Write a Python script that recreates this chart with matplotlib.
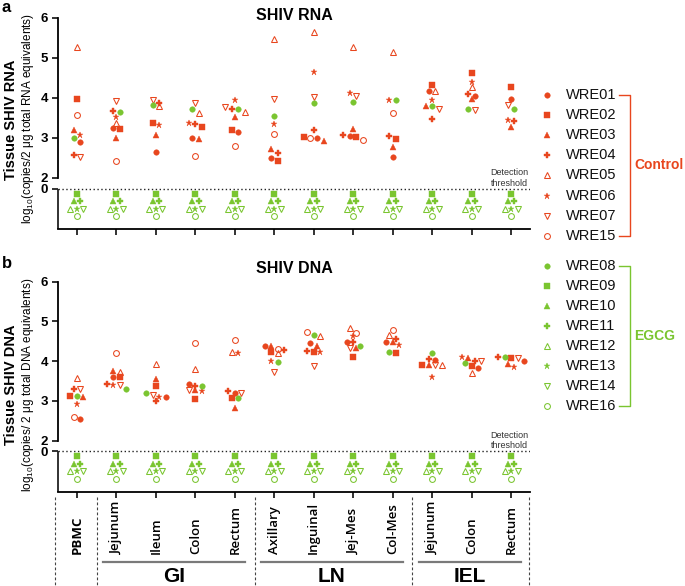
import matplotlib
matplotlib.use('Agg')
import matplotlib.pyplot as plt
import matplotlib.transforms as mtransforms
import numpy as np

plt.rcParams['font.family'] = ['Liberation Sans', 'DejaVu Sans']
plt.rcParams['mathtext.fontset'] = 'custom'
plt.rcParams['mathtext.rm'] = 'Liberation Sans'
plt.rcParams['mathtext.it'] = 'Liberation Sans:italic'
plt.rcParams['mathtext.bf'] = 'Liberation Sans:bold'

RED = '#E8461E'
GREEN = '#7AC530'
nan = np.nan

tissues = ['PBMC', 'Jejunum', 'Ileum', 'Colon', 'Rectum', 'Axillary', 'Inguinal',
           'Jej-Mes', 'Col-Mes', 'Jejunum', 'Colon', 'Rectum']
group_names = ['GI', 'LN', 'IEL']
group_cols = [(1, 4), (5, 8), (9, 11)]

control = ['WRE01', 'WRE02', 'WRE03', 'WRE04', 'WRE05', 'WRE06', 'WRE07', 'WRE15']
egcg = ['WRE08', 'WRE09', 'WRE10', 'WRE11', 'WRE12', 'WRE13', 'WRE14', 'WRE16']
# EGCG animals below detection in every tissue (stacked under the threshold line)
below_rows = [['WRE09'], ['WRE10', 'WRE11'], ['WRE12', 'WRE13', 'WRE14'], ['WRE16']]

# log10 copies / 2 ug total RNA, one value per tissue (nan = no point)
rna_wre01 = [2.89, 3.24, 2.66, 3.00, 3.15, 2.50, 3.00, 3.06, 2.52, 4.18, 4.05, 3.97]
rna_wre02 = [3.97, 3.23, 3.37, 3.28, 3.19, 2.43, 3.02, 3.02, 2.98, 4.33, 4.62, 4.28]
rna_wre03 = [3.20, 3.01, 3.08, 2.97, 3.52, 2.73, 2.92, 3.23, 2.78, 3.81, 3.97, 3.28]
rna_wre04 = [2.57, 3.67, 3.87, 3.36, 3.72, 2.62, 3.20, 3.07, 3.06, 3.47, 4.11, 3.42]
rna_wre05 = [5.27, 3.38, 3.80, 3.63, 3.64, 5.47, 5.65, 5.27, 5.14, 4.18, 4.27, nan]
rna_wre06 = [3.08, 3.52, 3.32, 3.38, 3.94, 3.34, 4.65, 4.13, 3.96, 3.95, 4.41, 3.45]
rna_wre07 = [2.52, 3.92, 3.95, 3.88, 3.77, 3.98, 4.02, 4.04, nan, 3.72, 3.71, 3.83]
rna_wre15 = [3.57, 2.43, nan, 2.55, 2.81, 3.10, 3.00, 2.95, 3.63, nan, nan, nan]
rna_wre08 = [3.01, 3.66, 3.82, 3.72, 3.72, 3.54, 3.87, 3.90, 3.94, 3.80, 3.72, 3.72]

# log10 copies / 2 ug total DNA
dna_wre01 = [2.54, 3.61, 3.09, 3.43, 3.21, 4.38, 4.45, 4.48, 4.49, 4.03, 3.84, 4.00]
dna_wre02 = [3.13, 3.61, 3.38, 3.05, 3.08, 4.23, 4.23, 4.11, 4.20, 3.91, 3.88, 4.09]
dna_wre03 = [3.11, 3.75, 3.56, 3.27, 2.83, 4.37, 4.38, 4.33, 4.48, 3.91, 4.09, 3.93]
dna_wre04 = [3.31, 3.42, 3.01, 3.38, 3.25, 4.28, 4.25, 4.48, 4.55, 4.05, 4.01, 4.11]
dna_wre05 = [3.59, 3.72, 3.93, 3.81, 4.22, 4.20, 4.63, 4.84, 4.65, 3.90, 3.70, nan]
dna_wre06 = [2.93, 3.39, 3.11, 3.26, 4.20, 4.01, 4.22, 4.64, 4.40, 3.61, 4.11, 3.86]
dna_wre07 = [3.29, 3.39, 3.16, 3.28, 3.19, 3.72, 3.87, 4.33, nan, 3.91, 4.00, 4.09]
dna_wre15 = [2.60, 4.20, nan, 4.47, 4.53, 4.31, 4.73, 4.71, 4.79, nan, nan, nan]
dna_wre08 = [3.12, 3.29, 3.20, 3.38, 3.08, 3.97, 4.67, 4.37, 4.23, 4.21, 3.95, 4.11]

rna = {'WRE01': rna_wre01, 'WRE02': rna_wre02, 'WRE03': rna_wre03, 'WRE04': rna_wre04,
       'WRE05': rna_wre05, 'WRE06': rna_wre06, 'WRE07': rna_wre07, 'WRE15': rna_wre15,
       'WRE08': rna_wre08}
dna = {'WRE01': dna_wre01, 'WRE02': dna_wre02, 'WRE03': dna_wre03, 'WRE04': dna_wre04,
       'WRE05': dna_wre05, 'WRE06': dna_wre06, 'WRE07': dna_wre07, 'WRE15': dna_wre15,
       'WRE08': dna_wre08}

# marker style by position within a group (same symbols for control and EGCG)
shapes = ['o', 's', '^', 'P', '^', '*', 'v', 'o']
filled = [True, True, True, True, False, True, False, False]
sizes = [4.0, 3.9, 4.0, 3.9, 4.0, 4.8, 4.0, 4.2]

style = {}
for i, a in enumerate(control):
    style[a] = (shapes[i], filled[i], sizes[i], RED)
for i, a in enumerate(egcg):
    style[a] = (shapes[i], filled[i], sizes[i], GREEN)

TH = 1.73      # position of the "0" / detection threshold line
LANE = 0.165   # horizontal spacing of side-by-side points


def scat(ax, x, y, animal, **kw):
    m, f, s, c = style[animal]
    ax.plot(x, y, ls='none', marker=m, ms=s,
            mfc=c if f else 'none', mec=c, mew=0.75 if not f else 0.3, **kw)


def swarm(vals, gap=0.13):
    vals = np.asarray(vals)
    offs = np.zeros(len(vals))
    order = [j for j in np.argsort(-vals) if not np.isnan(vals[j])]
    rows, row = [], []
    for j in order:
        if row and vals[row[0]] - vals[j] > gap:
            rows.append(row)
            row = []
        row.append(j)
    if row:
        rows.append(row)
    for r in rows:
        for k, j in enumerate(r):
            offs[j] = (k - (len(r) - 1) / 2) * LANE
    return offs


def panel(ax, data, ylo):
    animals = list(data.keys())
    for c in range(len(tissues)):
        vals = [data[a][c] for a in animals]
        offs = swarm(vals)
        for a, v, o in zip(animals, vals, offs):
            if not np.isnan(v):
                scat(ax, c + o, v, a, zorder=3)
        for k, r in enumerate(below_rows):
            yk = TH - 0.12 - 0.19 * k
            for i, a in enumerate(r):
                scat(ax, c + (i - (len(r) - 1) / 2) * LANE, yk, a, zorder=3)

    ax.set_xlim(-0.48, 11.48)
    ax.set_ylim(ylo, 6.0)
    for s in ['top', 'right']:
        ax.spines[s].set_visible(False)
    ax.spines['left'].set_bounds(2, 6)
    ax.spines['left'].set_linewidth(1.3)
    ax.spines['bottom'].set_linewidth(1.3)
    ax.plot([0, 0], [ylo, TH], transform=ax.get_yaxis_transform(), color='#222222',
            lw=1.3, clip_on=False, solid_capstyle='butt')
    ax.set_yticks([TH, 2, 3, 4, 5, 6])
    ax.set_yticklabels(['0', '2', '3', '4', '5', '6'], fontweight='bold', fontsize=9.5)
    ax.set_xticks(range(len(tissues)))
    ax.set_xticklabels([])
    ax.tick_params(length=4, width=1.3, color='#222222', pad=3)
    ax.axhline(TH, color='#222222', lw=1.0, ls=(0, (1, 1.8)), zorder=1)
    tr = mtransforms.blended_transform_factory(ax.transAxes, ax.transData)
    ax.text(0.996, TH + 0.03, 'Detection\nthreshold', transform=tr, ha='right',
            va='bottom', fontsize=6.5, color='#333333', linespacing=1.25)


fig = plt.figure(figsize=(6.85, 5.86), dpi=100)
W, H = 685.0, 586.0
ax_a = fig.add_axes([58 / W, 1 - 229 / H, 472 / W, 211 / H])
ax_b = fig.add_axes([58 / W, 1 - 492 / H, 472 / W, 210.3 / H])
panel(ax_a, rna, 0.725)
panel(ax_b, dna, 0.71)

# overlay in pixel coordinates for labels, legend and tissue annotations
ov = fig.add_axes([0, 0, 1, 1])
ov.set_xlim(0, W)
ov.set_ylim(H, 0)
ov.set_axis_off()

ov.text(2, 11.5, 'a', fontsize=12, fontweight='bold', va='baseline')
ov.text(2, 268, 'b', fontsize=12, fontweight='bold', va='baseline')
ov.text(294, 20, 'SHIV RNA', fontsize=11.5, fontweight='bold', ha='center', va='baseline')
ov.text(294, 273, 'SHIV DNA', fontsize=11.5, fontweight='bold', ha='center', va='baseline')

ov.text(11, 120, 'Tissue SHIV RNA', rotation=90, fontsize=10.5, fontweight='bold',
        ha='center', va='center')
ov.text(28, 118, 'log$_{10}$(copies/2 \u03bcg total RNA equivalents)', rotation=90,
        fontsize=8.5, ha='center', va='center')
ov.text(11, 385, 'Tissue SHIV DNA', rotation=90, fontsize=10.5, fontweight='bold',
        ha='center', va='center')
ov.text(28, 385, 'log$_{10}$(copies/ 2 \u03bcg total DNA equivalents)', rotation=90,
        fontsize=8.5, ha='center', va='center')

# legend
for names, color, y0, label in [(control, RED, 95, 'Control'),
                                (egcg, GREEN, 265.7, 'EGCG')]:
    ys = [y0 + 20.1 * i for i in range(len(names))]
    for a, y in zip(names, ys):
        scat(ov, 547, y, a)
        ov.text(566, y, a, fontsize=10.5, va='center', ha='left', color='#111111')
    ov.plot([619, 630, 630, 619], [ys[0], ys[0], ys[-1], ys[-1]], color=color, lw=1.0)
    ov.text(634, (ys[0] + ys[-1]) / 2, label, color=color, fontsize=10,
            fontweight='bold', va='center', ha='left')

# tissue labels below panel b
bx = mtransforms.blended_transform_factory(ax_b.transData, ov.transData)
for i, t in enumerate(tissues):
    ov.text(i, 554, t, transform=bx, rotation=90, ha='center', va='bottom',
            fontsize=9.5, fontweight='bold' if i == 0 else 'semibold',
            family=['Open Sans', 'Liberation Sans'])
for xs in [-0.56, 0.5, 4.5, 8.5, 11.45]:
    ov.plot([xs, xs], [497, 586], transform=bx, color='#444444', lw=0.8,
            ls=(0, (2.5, 2)), clip_on=False)
for name, (c0, c1) in zip(group_names, group_cols):
    x0, x1 = c0 - 0.34, c1 + 0.25
    ov.plot([x0, x1], [562, 562], transform=bx, color='#7a7a7a', lw=1.6)
    ov.text((x0 + x1) / 2, 576, name, transform=bx, ha='center', va='center',
            fontsize=15, fontweight='bold',
            family=['Liberation Sans Narrow', 'Liberation Sans'])

fig.savefig('out.png', dpi=100)
